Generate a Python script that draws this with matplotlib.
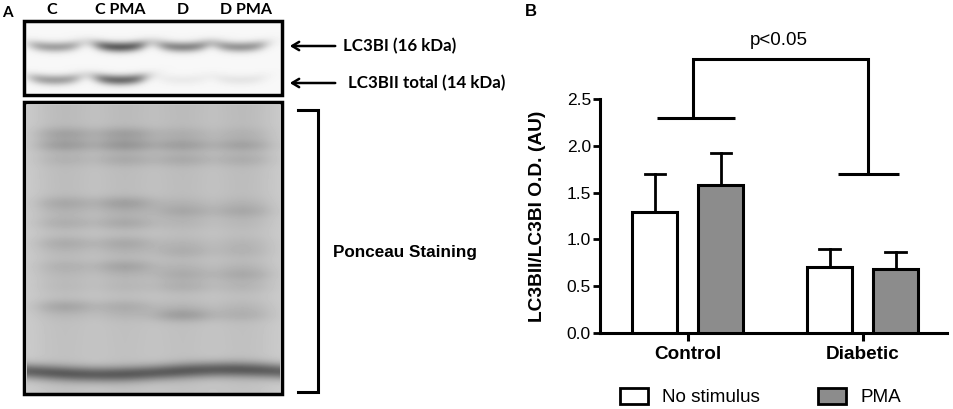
import numpy as np
import matplotlib
matplotlib.use("Agg")
import matplotlib.pyplot as plt
from matplotlib.patches import Rectangle, Patch

plt.rcParams["font.family"] = ["Liberation Sans", "DejaVu Sans"]

# ── panel B data ──────────────────────────────────────────────────────────
groups = ["Control", "Diabetic"]
no_stim = [1.29, 0.71]
no_stim_err = [0.41, 0.19]
pma = [1.58, 0.68]
pma_err = [0.34, 0.19]
series_labels = ["No stimulus", "PMA"]
yticks = [0.0, 0.5, 1.0, 1.5, 2.0, 2.5]
bracket_left_y = 2.30
bracket_right_y = 1.70
bracket_top_y = 2.93
p_text = "p<0.05"

# ── panel A (blot) description ────────────────────────────────────────────
lanes = ["C", "C PMA", "D", "D PMA"]
lc3_labels = ["LC3BI (16 kDa)", "LC3BII total (14 kDa)"]
lc3bi_density = [0.34, 0.60, 0.44, 0.38]
lc3bii_density = [0.34, 0.54, 0.05, 0.07]
# ponceau bands: row (0..1 down the gel) and density per lane
ponceau_rows = [0.10, 0.14, 0.19, 0.34, 0.37, 0.41, 0.48, 0.51, 0.56, 0.59, 0.63, 0.70, 0.73]
ponceau_dens = [
    [0.10, 0.11, 0.05, 0.04],
    [0.12, 0.14, 0.11, 0.10],
    [0.04, 0.07, 0.07, 0.06],
    [0.08, 0.11, 0.03, 0.03],
    [0.03, 0.04, 0.08, 0.08],
    [0.06, 0.08, 0.03, 0.02],
    [0.07, 0.08, 0.03, 0.03],
    [0.02, 0.03, 0.06, 0.04],
    [0.05, 0.10, 0.03, 0.03],
    [0.02, 0.03, 0.07, 0.08],
    [0.02, 0.03, 0.06, 0.04],
    [0.10, 0.07, 0.03, 0.03],
    [0.02, 0.03, 0.13, 0.06],
]

FIG_W, FIG_H = 954, 409
fig = plt.figure(figsize=(FIG_W / 100, FIG_H / 100), dpi=100)
fig.patch.set_facecolor("white")

ax_a = fig.add_axes([0, 0, 1, 1])
ax_a.set_xlim(0, FIG_W)
ax_a.set_ylim(FIG_H, 0)
ax_a.axis("off")


def lane_mask(xx, cx, hw, soft=3.0):
    return 1.0 / (1.0 + np.exp((np.abs(xx - cx) - hw) / soft))


# top blot (LC3B)
tx0, tx1, ty0, ty1 = 27, 280, 23, 93
xx, yy = np.meshgrid(np.arange(tx0, tx1) + 0.5, np.arange(ty0, ty1) + 0.5)
top = np.full(xx.shape, 0.97)
top_centers = [55, 120, 183, 240]
for cx, d1, d2 in zip(top_centers, lc3bi_density, lc3bii_density):
    m = lane_mask(xx, cx, 24, 5)
    bend = 0.004 * (xx - cx) ** 2
    top -= d1 * m * np.exp(-((yy - 47 + bend) ** 2) / (2 * 3.8 ** 2))
    top -= d2 * m * np.exp(-((yy - 80 + bend) ** 2) / (2 * 3.8 ** 2))
ax_a.imshow(top, cmap="gray", vmin=0, vmax=1, extent=(tx0, tx1, ty1, ty0),
            aspect="auto", interpolation="bilinear", zorder=1)
ax_a.add_patch(Rectangle((24, 21), 258, 74, fill=False, lw=2.5, ec="black", zorder=2))

# ponceau
px0, px1, py0, py1 = 27, 280, 105, 393
xx, yy = np.meshgrid(np.arange(px0, px1) + 0.5, np.arange(py0, py1) + 0.5)
pon = np.full(xx.shape, 0.80)
pon_centers = [65, 125, 183, 243]
gel_h = py1 - py0
for li, cx in enumerate(pon_centers):
    m = lane_mask(xx, cx, 25, 8)
    pon -= 0.07 * m * (1 - 0.4 * (yy - py0) / gel_h)
    for row, dens in zip(ponceau_rows, ponceau_dens):
        yc = py0 + row * gel_h
        pon -= dens[li] * m * np.exp(-((yy - yc) ** 2) / (2 * 4.8 ** 2))
# dye front
front = 372 + 2.5 * np.sin((xx - 40) / 40.0)
pon -= 0.40 * np.exp(-((yy - front) ** 2) / (2 * 5.5 ** 2))
pon = np.clip(pon, 0, 1)
ax_a.imshow(pon, cmap="gray", vmin=0, vmax=1, extent=(px0, px1, py1, py0),
            aspect="auto", interpolation="bicubic", zorder=1)
ax_a.add_patch(Rectangle((24, 102), 258, 292, fill=False, lw=2.5, ec="black", zorder=2))

# labels panel A
cal = ["Lato", "DejaVu Sans"]
ax_a.text(7, 13, "A", fontsize=11, fontweight="bold", family=cal, ha="center", va="center")
for cx, lab in zip([52, 120, 183, 246], lanes):
    ax_a.text(cx, 10, lab, fontsize=11.5, fontweight="bold", family=cal,
              ha="center", va="center")
for yv, lab, tx in zip([46, 83], lc3_labels, [343, 348]):
    ax_a.annotate("", xy=(287, yv), xytext=(338, yv),
                  arrowprops=dict(arrowstyle="->,head_length=0.5,head_width=0.3",
                                  lw=1.8, color="black"))
    ax_a.text(tx, yv, lab, fontsize=12.2, fontweight="bold",
              family=cal, ha="left", va="center")
ax_a.plot([298, 318, 318, 298], [110, 110, 392, 392], color="black", lw=2.2,
          solid_joinstyle="miter")
ax_a.text(333, 253, "Ponceau Staining", fontsize=12.3, fontweight="bold",
          ha="left", va="center")

# ── panel B ───────────────────────────────────────────────────────────────
ax = fig.add_axes([600 / FIG_W, 1 - 333 / FIG_H, 347 / FIG_W, 234 / FIG_H])
ax.patch.set_alpha(0)
x = np.arange(len(groups))
off, width = 0.189, 0.258
ax.bar(x - off, no_stim, width, color="white", edgecolor="black", lw=2.2, zorder=3)
ax.bar(x + off, pma, width, color="#8c8c8c", edgecolor="black", lw=2.2, zorder=3)
for xs, vals, errs in ((x - off, no_stim, no_stim_err), (x + off, pma, pma_err)):
    for xi, v, e in zip(xs, vals, errs):
        ax.plot([xi, xi], [v, v + e], color="black", lw=2.0, zorder=2)
        ax.plot([xi - 0.058, xi + 0.058], [v + e, v + e], color="black", lw=2.0, zorder=2)

ax.set_xlim(-0.504, 1.484)
ax.set_ylim(0, 2.5)
ax.set_yticks(yticks)
ax.set_yticklabels([f"{t:.1f}" for t in yticks], fontsize=12.5)
ax.set_xticks(x)
ax.set_xticklabels(groups, fontsize=13.6, fontweight="bold")
ax.tick_params(axis="x", direction="out", length=6, width=2.2, pad=3.5)
ax.tick_params(axis="y", direction="out", length=5, width=2.0, pad=1.5)
for s in ("top", "right"):
    ax.spines[s].set_visible(False)
for s in ("left", "bottom"):
    ax.spines[s].set_linewidth(2.2)
ax.set_ylabel("LC3BII/LC3BI O.D. (AU)", fontsize=13.8, fontweight="bold")
ax.yaxis.set_label_coords(-0.156, 0.5)

# significance bracket
bl = dict(color="black", lw=2.2, clip_on=False, solid_capstyle="butt")
ax.plot([-0.177, 0.27], [bracket_left_y] * 2, **bl)
ax.plot([0.86, 1.21], [bracket_right_y] * 2, **bl)
ax.plot([0.03, 0.03, 1.03, 1.03],
        [bracket_left_y, bracket_top_y, bracket_top_y, bracket_right_y],
        solid_joinstyle="miter", **bl)
ax.text(0.52, 3.08, p_text, fontsize=13.5, ha="center", va="baseline")

fig.text(531 / FIG_W, 1 - 11 / FIG_H, "B", fontsize=12, fontweight="bold",
         ha="center", va="center")

handles = [Patch(facecolor="white", edgecolor="black", lw=2.0),
           Patch(facecolor="#8c8c8c", edgecolor="black", lw=2.0)]
fig.legend(handles, series_labels, loc="center left",
           bbox_to_anchor=(620 / FIG_W, 1 - 397 / FIG_H), bbox_transform=fig.transFigure,
           ncol=2, frameon=False, fontsize=13.6, handlelength=1.48, handleheight=0.9,
           handletextpad=0.74, columnspacing=3.1, borderpad=0, borderaxespad=0)

fig.savefig("out.png", dpi=100)
